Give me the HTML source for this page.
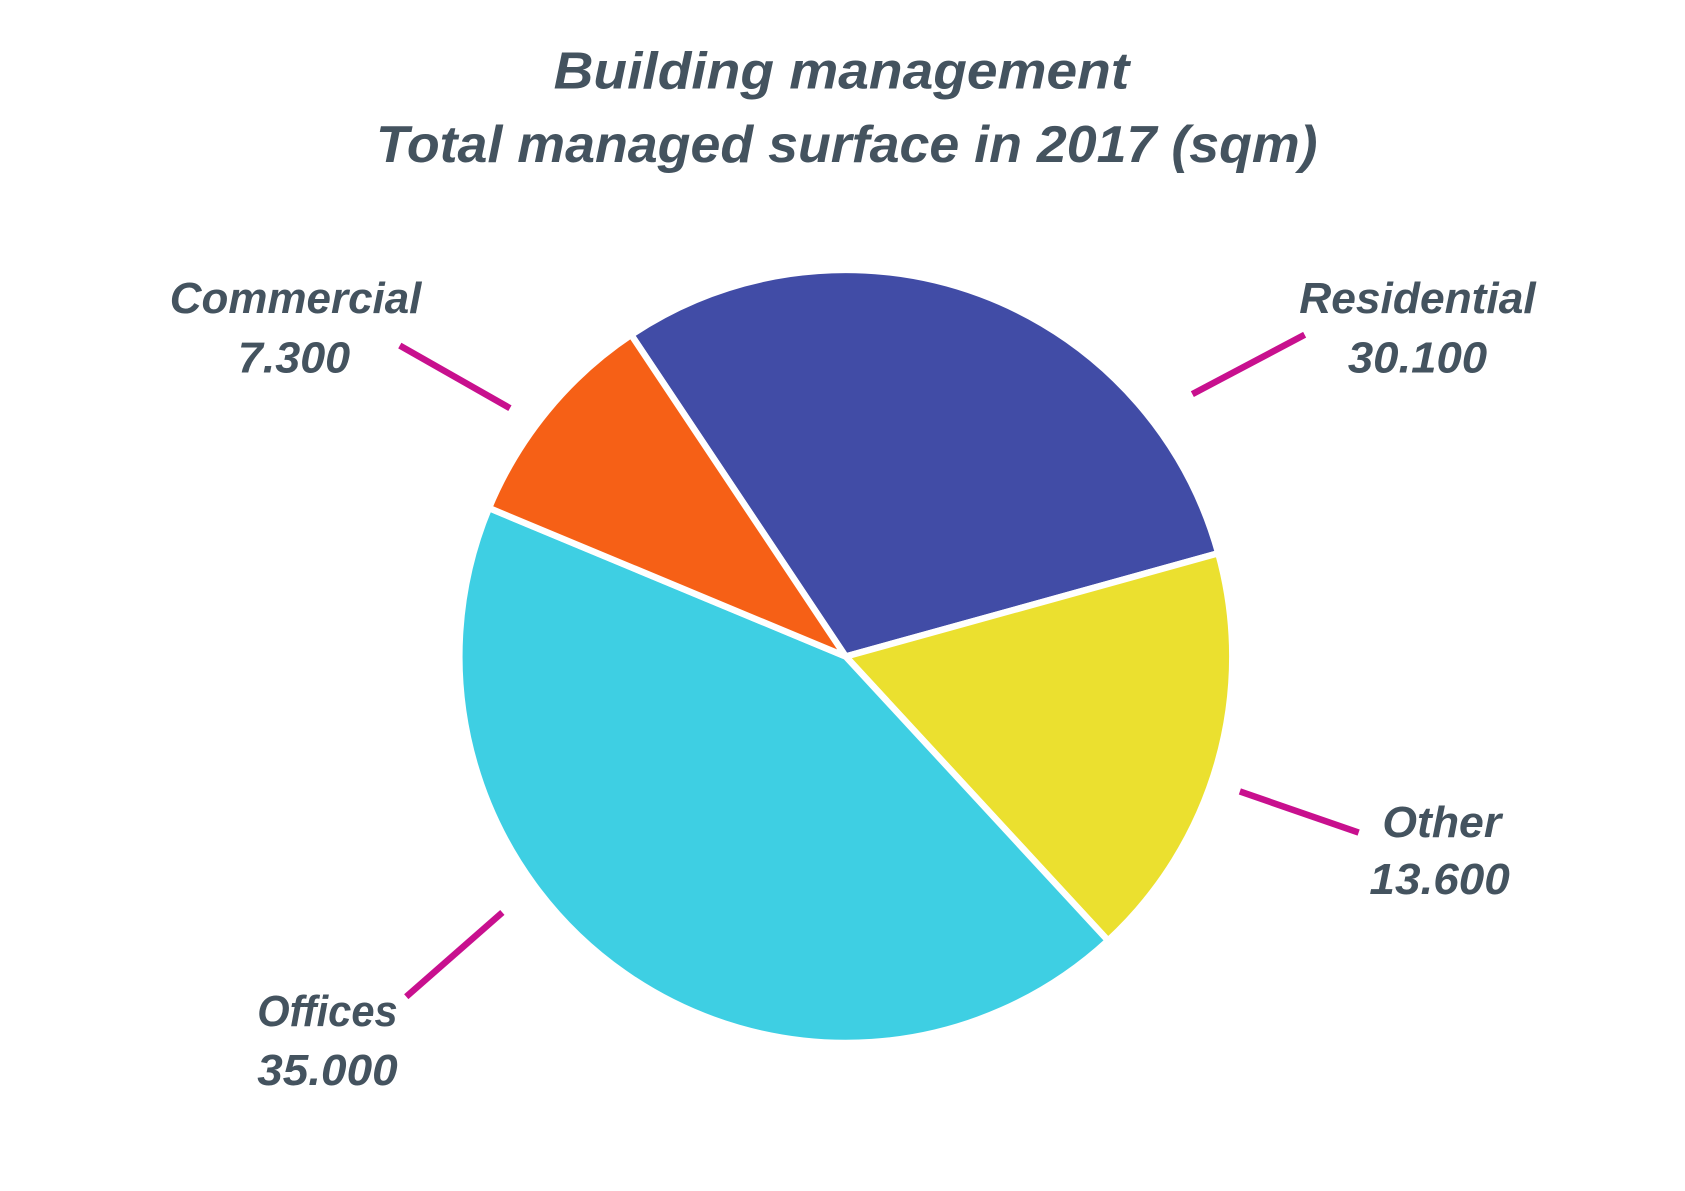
<!DOCTYPE html>
<html><head><meta charset="utf-8"><style>
html,body{margin:0;padding:0;background:#fff;}
svg{display:block;}
text{font-family:"Liberation Sans",sans-serif;font-weight:bold;font-style:italic;fill:#44535f;}
</style></head><body>
<svg width="1685" height="1191" viewBox="0 0 1560 1103" xmlns="http://www.w3.org/2000/svg">
<rect width="1560" height="1103" fill="#fff"/>
<text x="779" y="82" font-size="48" text-anchor="middle" textLength="533" lengthAdjust="spacingAndGlyphs">Building management</text>
<text x="784" y="150" font-size="48" text-anchor="middle" textLength="872" lengthAdjust="spacingAndGlyphs">Total managed surface in 2017 (sqm)</text>
<g stroke="#fff" stroke-width="6" stroke-linejoin="round">
<path d="M783,608 L584.3,310.1 A358,358 0 0 1 1128,512.4 Z" fill="#414ca6"/>
<path d="M783,608 L1128,512.4 A358,358 0 0 1 1025.9,871.1 Z" fill="#ebe02f"/>
<path d="M783,608 L1025.9,871.1 A358,358 0 0 1 452.6,470.5 Z" fill="#3ecfe3"/>
<path d="M783,608 L452.6,470.5 A358,358 0 0 1 584.3,310.1 Z" fill="#f66016"/>
</g>
<g stroke="#c8108e" stroke-width="6">
<line x1="370" y1="320" x2="472" y2="378"/>
<line x1="1104" y1="365" x2="1208" y2="310"/>
<line x1="1148" y1="733" x2="1258" y2="771"/>
<line x1="376" y1="923" x2="465" y2="845"/>
</g>
<g font-size="40">
<text x="157" y="290" textLength="233" lengthAdjust="spacingAndGlyphs">Commercial</text>
<text x="220" y="345" textLength="104" lengthAdjust="spacingAndGlyphs">7.300</text>
<text x="1203" y="290" textLength="219" lengthAdjust="spacingAndGlyphs">Residential</text>
<text x="1248" y="345" textLength="129" lengthAdjust="spacingAndGlyphs">30.100</text>
<text x="1280" y="775" textLength="110" lengthAdjust="spacingAndGlyphs">Other</text>
<text x="1268" y="828" textLength="130" lengthAdjust="spacingAndGlyphs">13.600</text>
<text x="238" y="950" textLength="130" lengthAdjust="spacingAndGlyphs">Offices</text>
<text x="238" y="1005" textLength="130" lengthAdjust="spacingAndGlyphs">35.000</text>
</g>
</svg>
</body></html>
